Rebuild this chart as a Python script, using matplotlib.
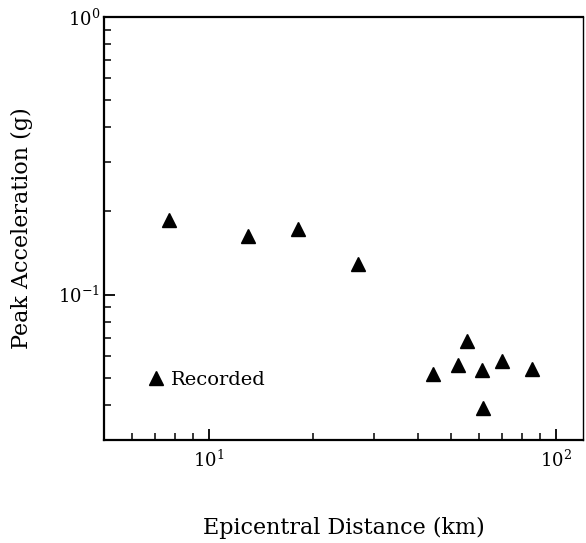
import matplotlib
matplotlib.use('Agg')
import matplotlib.pyplot as plt
from matplotlib.ticker import LogLocator, FixedLocator, NullFormatter

plt.rcParams['font.family'] = 'DejaVu Serif'
plt.rcParams['mathtext.fontset'] = 'dejavuserif'

# distancia epicentral (km) y aceleracion pico (g)
dist = [7.7, 13.0, 18.1, 27.0, 44.3, 52.2, 55.5, 61.4, 70.1, 85.5, 61.8]
acc = [0.185, 0.162, 0.172, 0.129, 0.0519, 0.0558, 0.0678, 0.0535, 0.0578, 0.0539, 0.0392]

xticks = [10, 100]
xlabels = [r'$10^{1}$', r'$10^{2}$']
yticks = [0.1, 1.0]
ylabels = [r'$10^{-1}$', r'$10^{0}$']

fig = plt.figure(figsize=(5.86, 5.43), dpi=100)
ax = fig.add_axes([0.1775, 0.19, 0.818, 0.779])

ax.plot(dist, acc, linestyle='none', marker='^', markersize=9.5,
        color='black', label='Recorded')

ax.set_xscale('log')
ax.set_yscale('log')
ax.set_xlim(5, 120)
ax.set_ylim(0.03, 1.0)

ax.xaxis.set_major_locator(FixedLocator(xticks))
ax.set_xticklabels(xlabels)
ax.yaxis.set_major_locator(FixedLocator(yticks))
ax.set_yticklabels(ylabels)
ax.xaxis.set_minor_locator(LogLocator(base=10, subs=range(2, 10)))
ax.yaxis.set_minor_locator(LogLocator(base=10, subs=range(2, 10)))
ax.xaxis.set_minor_formatter(NullFormatter())
ax.yaxis.set_minor_formatter(NullFormatter())

ax.tick_params(which='major', direction='in', length=8, width=1.3,
               labelsize=13, top=False, right=False)
ax.tick_params(which='minor', direction='in', length=5, width=1.1,
               top=False, right=False)
ax.tick_params(axis='y', which='major', pad=3)
ax.tick_params(axis='x', which='major', pad=7)

for s in ['left', 'bottom', 'top']:
    ax.spines[s].set_linewidth(1.6)
ax.spines['right'].set_linewidth(1.0)

ax.set_xlabel('Epicentral Distance (km)', fontsize=16, labelpad=33)
ax.set_ylabel('Peak Acceleration (g)', fontsize=16, labelpad=18)

ax.legend(loc='center left', bbox_to_anchor=(0.093, 0.142), frameon=False,
          handlelength=0.8, handletextpad=0.35, borderpad=0, borderaxespad=0,
          fontsize=14, numpoints=1)

fig.savefig('out.png', dpi=100)
